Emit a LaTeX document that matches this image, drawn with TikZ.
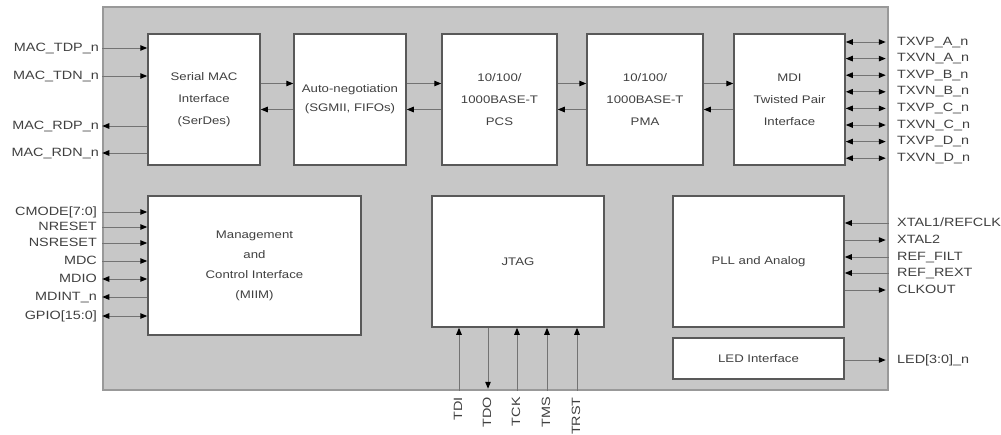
\documentclass[tikz,border=0pt]{standalone}
\usepackage{fontspec}
\setmainfont{Liberation Sans}[FakeStretch=1.2]
\usepackage{tikz}
\usetikzlibrary{arrows.meta,positioning}

\begin{document}
\begin{tikzpicture}[x=1pt,y=-1pt,
    chip/.style={draw=black!40, line width=1.5pt, fill=black!22},
    blk/.style={draw=black!65, line width=1.5pt, fill=white, align=center, inner sep=0pt, text=black!75, font=\fontsize{11}{22}\selectfont},
    sig/.style={draw=black!55, line width=1pt},
    arr/.style={sig, -{Triangle[length=7pt,width=5.5pt,color=black]}},
    barr/.style={sig, {Triangle[length=7pt,width=5.5pt,color=black]}-{Triangle[length=7pt,width=5.5pt,color=black]}},
    lbl/.style={text=black!75, inner sep=0pt, text height=8pt, text depth=2pt, font=\fontsize{12}{12}\selectfont}]
    \useasboundingbox (0,0) rectangle (1001,434);

    % chip outline
    \node[chip, minimum width=785pt, minimum height=383pt] (chip) at (495.5,198.5) {};

    % data path
    \node[blk, minimum width=112pt, minimum height=131pt] (serdes) at (204,99.5) {Serial MAC\\Interface\\(SerDes)};
    \node[blk, minimum width=112pt, minimum height=131pt] (autoneg) at (350,99.5) {Auto-negotiation\\[-3pt](SGMII, FIFOs)};
    \node[blk, minimum width=115pt, minimum height=131pt] (pcs) at (499.5,99.5) {10/100/\\1000BASE-T\\PCS};
    \node[blk, minimum width=116pt, minimum height=131pt] (pma) at (645,99.5) {10/100/\\1000BASE-T\\PMA};
    \node[blk, minimum width=111pt, minimum height=131pt] (mdi) at (789.5,99.5) {MDI\\Twisted Pair\\Interface};

    \draw[arr] ([yshift=16pt]serdes.east) -- ([yshift=16pt]autoneg.west);
    \draw[arr] ([yshift=-10pt]autoneg.west) -- ([yshift=-10pt]serdes.east);
    \draw[arr] ([yshift=16pt]autoneg.east) -- ([yshift=16pt]pcs.west);
    \draw[arr] ([yshift=-10pt]pcs.west) -- ([yshift=-10pt]autoneg.east);
    \draw[arr] ([yshift=16pt]pcs.east) -- ([yshift=16pt]pma.west);
    \draw[arr] ([yshift=-10pt]pma.west) -- ([yshift=-10pt]pcs.east);
    \draw[arr] ([yshift=16pt]pma.east) -- ([yshift=16pt]mdi.west);
    \draw[arr] ([yshift=-10pt]mdi.west) -- ([yshift=-10pt]pma.east);

    % control blocks
    \node[blk, minimum width=213pt, minimum height=139pt] (mgmt) at (254.5,265.5) {Management\\[-2pt]and\\[-2pt]Control Interface\\[-2pt](MIIM)};
    \node[blk, minimum width=172pt, minimum height=131pt] (jtag) at (518,261.5) {JTAG};
    \node[blk, minimum width=171pt, minimum height=131pt] (pll) at (758.5,261.5) {PLL and Analog};
    \node[blk, minimum width=171pt, minimum height=41pt] (led) at (758.5,358.5) {LED Interface};

    % MAC side
    \node[lbl, anchor=east] (tdp) at (99,48) {MAC\_TDP\_n};
    \node[lbl, anchor=east] (tdn) at (99,76) {MAC\_TDN\_n};
    \node[lbl, anchor=east] (rdp) at (99,126) {MAC\_RDP\_n};
    \node[lbl, anchor=east] (rdn) at (99,153) {MAC\_RDN\_n};
    \draw[arr] (chip.west |- tdp) -- (serdes.west |- tdp);
    \draw[arr] (chip.west |- tdn) -- (serdes.west |- tdn);
    \draw[arr] (serdes.west |- rdp) -- (chip.west |- rdp);
    \draw[arr] (serdes.west |- rdn) -- (chip.west |- rdn);

    % line side
    \node[lbl, anchor=west] (txpa) at (897,42) {TXVP\_A\_n};
    \node[lbl, anchor=west] (txna) at (897,58.6) {TXVN\_A\_n};
    \node[lbl, anchor=west] (txpb) at (897,75.2) {TXVP\_B\_n};
    \node[lbl, anchor=west] (txnb) at (897,91.8) {TXVN\_B\_n};
    \node[lbl, anchor=west] (txpc) at (897,108.4) {TXVP\_C\_n};
    \node[lbl, anchor=west] (txnc) at (897,125) {TXVN\_C\_n};
    \node[lbl, anchor=west] (txpd) at (897,141.6) {TXVP\_D\_n};
    \node[lbl, anchor=west] (txnd) at (897,158.2) {TXVN\_D\_n};
    \draw[barr, shorten >=3pt] (mdi.east |- txpa) -- (chip.east |- txpa);
    \draw[barr, shorten >=3pt] (mdi.east |- txna) -- (chip.east |- txna);
    \draw[barr, shorten >=3pt] (mdi.east |- txpb) -- (chip.east |- txpb);
    \draw[barr, shorten >=3pt] (mdi.east |- txnb) -- (chip.east |- txnb);
    \draw[barr, shorten >=3pt] (mdi.east |- txpc) -- (chip.east |- txpc);
    \draw[barr, shorten >=3pt] (mdi.east |- txnc) -- (chip.east |- txnc);
    \draw[barr, shorten >=3pt] (mdi.east |- txpd) -- (chip.east |- txpd);
    \draw[barr, shorten >=3pt] (mdi.east |- txnd) -- (chip.east |- txnd);

    % management pins
    \node[lbl, anchor=east] (cmode) at (97,212) {CMODE[7:0]};
    \node[lbl, anchor=east] (nreset) at (97,227) {NRESET};
    \node[lbl, anchor=east] (nsreset) at (97,243) {NSRESET};
    \node[lbl, anchor=east] (mdc) at (97,261) {MDC};
    \node[lbl, anchor=east] (mdio) at (97,279) {MDIO};
    \node[lbl, anchor=east] (mdint) at (97,297) {MDINT\_n};
    \node[lbl, anchor=east] (gpio) at (97,316) {GPIO[15:0]};
    \draw[arr] (chip.west |- cmode) -- (mgmt.west |- cmode);
    \draw[arr] (chip.west |- nreset) -- (mgmt.west |- nreset);
    \draw[arr] (chip.west |- nsreset) -- (mgmt.west |- nsreset);
    \draw[arr] (chip.west |- mdc) -- (mgmt.west |- mdc);
    \draw[barr] (chip.west |- mdio) -- (mgmt.west |- mdio);
    \draw[arr] (mgmt.west |- mdint) -- (chip.west |- mdint);
    \draw[barr] (chip.west |- gpio) -- (mgmt.west |- gpio);

    % JTAG pins
    \node[lbl, rotate=90, anchor=east] (tdi) at (459,397) {TDI};
    \node[lbl, rotate=90, anchor=east] (tdo) at (488,397) {TDO};
    \node[lbl, rotate=90, anchor=east] (tck) at (517,397) {TCK};
    \node[lbl, rotate=90, anchor=east] (tms) at (547,397) {TMS};
    \node[lbl, rotate=90, anchor=east] (trst) at (577,397) {TRST};
    \draw[arr] (chip.south -| tdi) -- (jtag.south -| tdi);
    \draw[arr, shorten >=2pt] (jtag.south -| tdo) -- (chip.south -| tdo);
    \draw[arr] (chip.south -| tck) -- (jtag.south -| tck);
    \draw[arr] (chip.south -| tms) -- (jtag.south -| tms);
    \draw[arr] (chip.south -| trst) -- (jtag.south -| trst);

    % clock and analog pins
    \node[lbl, anchor=west] (xtal1) at (897,223) {XTAL1/REFCLK};
    \node[lbl, anchor=west] (xtal2) at (897,240) {XTAL2};
    \node[lbl, anchor=west] (rfilt) at (897,257) {REF\_FILT};
    \node[lbl, anchor=west] (rrext) at (897,273) {REF\_REXT};
    \node[lbl, anchor=west] (clkout) at (897,290) {CLKOUT};
    \node[lbl, anchor=west] (ledn) at (897,360) {LED[3:0]\_n};
    \draw[arr] (chip.east |- xtal1) -- (pll.east |- xtal1);
    \draw[arr, shorten >=3pt] (pll.east |- xtal2) -- (chip.east |- xtal2);
    \draw[arr] (chip.east |- rfilt) -- (pll.east |- rfilt);
    \draw[arr] (chip.east |- rrext) -- (pll.east |- rrext);
    \draw[arr, shorten >=3pt] (pll.east |- clkout) -- (chip.east |- clkout);
    \draw[arr, shorten >=3pt] (led.east |- ledn) -- (chip.east |- ledn);
\end{tikzpicture}
\end{document}
